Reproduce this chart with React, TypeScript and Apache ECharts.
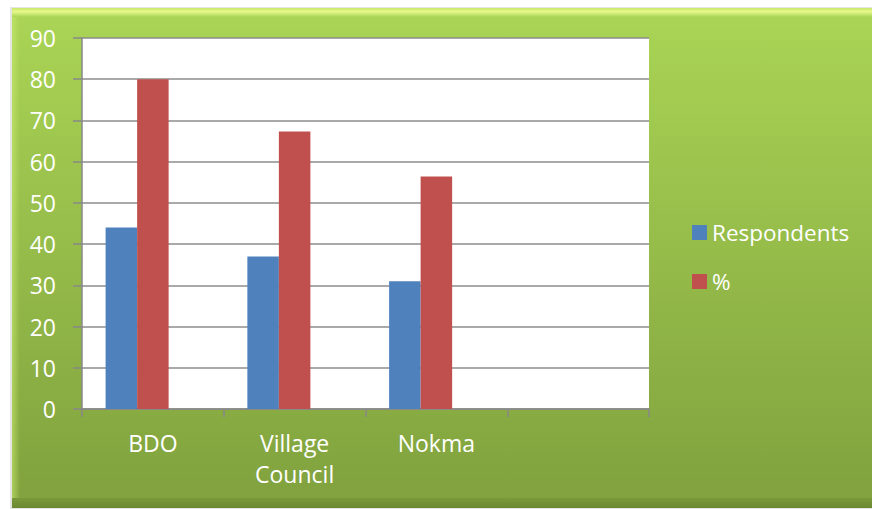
import React, { useEffect, useRef } from "react";
import * as echarts from "echarts";

const categories = ["BDO", "Village\nCouncil", "Nokma", ""];
const respondents = [44, 37, 31, null];
const percent = [80, 67.3, 56.4, null];
const hiddenSeries = [null, null, null, null];
const yTicks = { min: 0, max: 90, interval: 10 };

const FONT = "'Open Sans', 'Noto Sans', sans-serif";

export default function App() {
  const ref = useRef<HTMLDivElement>(null);
  useEffect(() => {
    document.body.style.margin = "0";
    const chart = echarts.init(ref.current!, null, { renderer: "svg" });
    chart.setOption({
      animation: false,
      graphic: [
        { type: "rect", z: -10, shape: { x: 10, y: 7, width: 862, height: 502 }, style: { fill: "#e4e4e4" } },
        {
          type: "rect",
          z: -9,
          shape: { x: 12, y: 8, width: 860, height: 500 },
          style: {
            fill: new echarts.graphic.LinearGradient(0, 0, 0, 1, [
              { offset: 0, color: "#aad555" },
              { offset: 1, color: "#80a13e" },
            ]),
          },
        },
        {
          type: "rect",
          z: -8,
          shape: { x: 12, y: 8, width: 860, height: 9 },
          style: {
            fill: new echarts.graphic.LinearGradient(0, 0, 0, 1, [
              { offset: 0, color: "#c8e86a" },
              { offset: 0.4, color: "#e6f98c" },
              { offset: 1, color: "#aad555" },
            ]),
          },
        },
        {
          type: "rect",
          z: -8,
          shape: { x: 12, y: 17, width: 8, height: 482 },
          style: {
            fill: new echarts.graphic.LinearGradient(0, 0, 1, 0, [
              { offset: 0, color: "rgba(200,235,110,0.6)" },
              { offset: 1, color: "rgba(200,235,110,0)" },
            ]),
          },
        },
        {
          type: "rect",
          z: -8,
          shape: { x: 12, y: 498, width: 860, height: 10 },
          style: {
            fill: new echarts.graphic.LinearGradient(0, 0, 0, 1, [
              { offset: 0, color: "#7a9a3a" },
              { offset: 1, color: "#6a8832" },
            ]),
          },
        },
      ],
      grid: {
        left: 82,
        top: 38,
        right: 223,
        bottom: 100,
        containLabel: false,
        outerBoundsMode: "none",
        show: true,
        backgroundColor: "#ffffff",
        borderWidth: 0,
      },
      legend: {
        orient: "vertical",
        left: 687,
        top: 216,
        padding: 5,
        itemWidth: 15,
        itemHeight: 15,
        itemGap: 26,
        icon: "rect",
        data: ["Respondents", "%"],
        textStyle: { color: "#ffffff", fontSize: 22.5, fontFamily: FONT, lineHeight: 21 },
      },
      xAxis: {
        type: "category",
        data: categories,
        axisLine: { lineStyle: { color: "#888888", width: 1.5 } },
        axisTick: { show: true, length: 8, interval: 0, lineStyle: { color: "#888888", width: 1.5 } },
        axisLabel: {
          color: "#ffffff",
          fontSize: 23,
          fontFamily: FONT,
          lineHeight: 31,
          margin: 18,
          interval: 0,
        },
        splitLine: { show: false },
      },
      yAxis: {
        type: "value",
        min: yTicks.min,
        max: yTicks.max,
        interval: yTicks.interval,
        axisLine: { show: true, lineStyle: { color: "#888888", width: 1.5 } },
        axisTick: { show: true, length: 9, lineStyle: { color: "#888888", width: 1.5 } },
        axisLabel: { color: "#ffffff", fontSize: 23, fontFamily: FONT, margin: 26 },
        splitLine: { show: true, lineStyle: { color: "#8c8c8c", width: 1.5 } },
      },
      series: [
        {
          name: "Respondents",
          type: "bar",
          data: respondents,
          itemStyle: { color: "#4f81bd" },
          barGap: "0%",
          barCategoryGap: "33.3%",
        },
        {
          name: "%",
          type: "bar",
          data: percent,
          itemStyle: { color: "#c0504d" },
          barGap: "0%",
          barCategoryGap: "33.3%",
        },
        {
          name: "hidden",
          type: "bar",
          data: hiddenSeries,
          itemStyle: { color: "#9bbb59" },
          barGap: "0%",
          barCategoryGap: "33.3%",
        },
      ],
    });
    return () => chart.dispose();
  }, []);
  return <div ref={ref} style={{ width: 872, height: 509 }} />;
}
